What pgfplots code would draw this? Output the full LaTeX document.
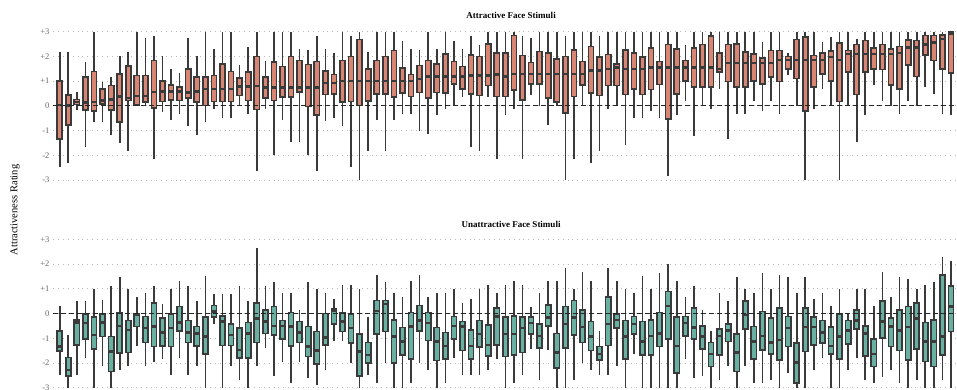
\documentclass[border=0pt]{standalone}
\usepackage{fontspec}
\setmainfont{Liberation Serif}
\usepackage{pgfplots}
\usepackage{pgfplotstable}
\pgfplotsset{compat=1.18}
\usepgfplotslibrary{statistics}
\definecolor{salmon}{RGB}{216,134,115}
\definecolor{tealbox}{RGB}{104,177,162}
\definecolor{edge}{RGB}{58,58,58}

\pgfplotstableread{
lw lq med uq uw
-2.48 -1.33 0.03 1.01 2.17
-2.32 -0.77 0.02 0.43 2.17
-0.16 0.05 0.16 0.26 0.58
-1.67 -0.16 0.13 1.16 1.79
-0.66 -0.22 0.16 1.39 3
-0.66 0.08 0.22 0.69 0.98
-1.16 -0.16 0.26 0.82 1.16
-1.5 -0.66 0.38 1.29 2.0
-1.83 0.22 0.32 1.6 2.17
0 0.03 0.39 1.23 3
0 0.15 0.4 1.23 2.75
-2.14 -0.08 0.57 1.83 2.83
-0.23 0.18 0.58 1.0 2.0
-0.57 0.24 0.58 0.85 1.48
-0.32 0.22 0.58 0.75 1.33
-0.8 0.32 0.55 1.5 2.75
-1.16 0.15 0.59 1.16 2.0
-0.66 0.01 0.69 1.16 3
-0.12 0.18 0.69 1.23 2.3
-0.5 0.18 0.69 1.7 3
-0.5 0.18 0.69 1.39 3
0 0.42 0.78 1.13 1.66
-0.32 0.22 0.78 1.36 2.4
-2.64 -0.15 0.81 2.0 3
-0.12 0.32 0.75 1.16 1.8
-1.98 0.22 0.75 1.77 3
-0.57 0.35 0.75 1.59 3
-1.47 0.35 0.75 2.0 3
-1.47 0.55 0.75 1.83 2.3
-1.98 -0.03 0.75 1.67 2.24
-2.64 -0.36 0.75 1.8 2.82
-0.63 0.46 0.93 1.4 2.3
-0.5 0.49 0.93 1.27 2.14
-0.8 0.16 1.0 1.83 3
-2.48 0.18 1.0 2.0 2.82
-3.0 0.01 1.0 2.68 3
-1.81 0.19 1.0 1.5 2.17
-0.59 0.49 1.0 1.83 3
-1.81 0.49 1.0 2.0 3
-0.57 0.35 1.0 2.24 3
-0.32 0.51 1.0 1.52 2.64
-0.32 0.38 1.0 1.27 2.3
-1.0 0.54 1.09 1.63 2.24
-1.13 0.32 1.19 1.83 3
-0.39 0.54 1.19 1.7 2.3
-0.12 0.51 1.19 2.1 3
0 0.89 1.19 1.8 2.64
0.35 0.69 1.19 1.59 2.3
-1.67 0.49 1.23 2.06 2.82
-1.81 0.42 1.23 2.0 2.48
0.35 0.82 1.23 2.51 3
-2.14 0.38 1.27 2.14 3
-0.39 0.38 1.19 2.14 3
-0.12 0.65 1.29 2.84 3
-2.14 0.24 1.29 2.04 2.82
0.42 0.89 1.29 1.75 2.75
0 0.89 1.29 2.2 3
-0.77 0.32 1.29 2.14 3
0 0.15 1.29 1.9 3
-3.0 -0.3 1.29 2.0 2.84
-2.14 0.38 1.29 2.26 3
0 0.85 1.29 1.8 3
-2.32 0.51 1.43 2.4 3
-1.81 0.42 1.43 1.97 2.82
-0.12 0.82 1.5 2.08 3
0 0.82 1.55 1.7 3
-1.58 0.46 1.5 2.26 3
-0.49 0.69 1.5 2.14 3
-0.49 0.46 1.5 1.97 3
-0.19 0.66 1.56 2.35 3
-0.49 0.86 1.56 1.8 3
-2.82 -0.53 1.56 2.48 3
-0.39 0.49 1.56 2.3 3
0.18 1.0 1.56 1.83 2.48
-1.2 0.75 1.56 2.35 3
0 0.75 1.56 2.48 3
-0.12 0.75 1.56 2.82 3
0.69 1.36 1.5 2.14 3
-1.33 0.98 1.73 2.48 3
-0.32 0.75 1.73 2.51 3
-0.32 0.75 1.73 2.17 3
0.19 1.0 1.73 2.1 3
-0.22 0.89 1.73 1.94 2.57
0.19 1.16 1.73 2.24 3
-0.32 0.98 1.86 2.24 3
1.23 1.5 1.86 2.0 2.14
0 1.1 1.86 2.68 3
-3.0 -0.22 1.86 2.78 3
-0.12 0.75 1.86 2.04 3
0.69 1.29 1.86 2.14 2.57
0 1.0 1.97 2.21 2.78
-3.0 0.18 1.86 2.53 3
0 1.36 2.1 2.24 3
-1.47 0.46 2.1 2.48 2.71
-0.39 1.36 2.1 2.64 3
0.86 1.5 2.1 2.35 3
0.18 1.47 2.1 2.48 3
0 0.85 2.1 2.3 3
-0.32 0.69 2.13 2.4 3
0.18 1.66 2.37 2.67 3
0 1.19 2.37 2.64 3
0.75 2.06 2.48 2.84 3
0.46 1.83 2.57 2.84 3
-0.32 1.5 2.71 2.87 3
-0.39 1.33 2.91 2.98 3
}\topdata

\pgfplotstableread{
lw lq med uq uw
-2.48 -1.51 -1.33 -0.7 0.31
-3.0 -2.52 -2.28 -1.78 -0.86
-2.48 -1.27 -0.36 -0.26 0.49
-1.81 -1.04 -0.39 -0.03 0.49
-3.0 -1.43 -0.86 -0.15 0.98
-2.14 -0.93 -0.36 -0.03 0.55
-3.0 -2.35 -1.54 -0.93 1.12
-2.28 -1.6 -0.5 0.04 1.46
-2.14 -1.58 -0.66 -0.28 0.98
-1.31 -0.53 -0.05 0 0.69
-2.14 -1.17 -0.59 -0.12 0.82
-1.98 -1.33 -0.53 0.44 1.12
-1.85 -1.31 -0.77 -0.19 0.39
-2.48 -1.33 -0.59 -0.03 0.98
-1.81 -0.7 -0.36 0.28 1.32
-2.48 -1.17 -0.77 -0.28 1.12
-2.14 -1.31 -0.8 -0.53 0.49
-3.0 -1.63 -0.93 -0.15 1.52
-0.42 -0.15 0.08 0.32 0.8
-3.0 -1.29 -0.32 -0.09 0.8
-2.14 -1.29 -0.86 -0.43 0.8
-2.68 -1.81 -1.47 -0.59 1.12
-3.0 -1.81 -0.8 -0.36 0.49
-2.14 -1.17 -0.19 0.42 2.64
-1.4 -0.8 -0.32 0.15 1.12
-2.52 -0.86 -0.5 0.28 1.29
-1.98 -1.04 -0.5 -0.28 0.82
-2.82 -1.31 -0.53 0.04 0.82
-1.98 -1.17 -0.77 -0.32 0.15
-2.61 -1.74 -1.33 -0.53 1.29
-2.9 -2.03 -1.5 -0.72 1.0
-2.3 -1.27 -0.96 0 0.85
-1.13 -0.42 0.12 0.18 0.58
-1.13 -0.73 -0.32 0.04 1.16
-2.01 -1.2 -0.59 -0.03 1.16
-3.0 -2.52 -1.54 -0.82 0.98
-2.48 -2.01 -1.67 -1.17 -0.12
-2.82 -0.84 0.11 0.53 1.56
-2.01 -0.73 0.39 0.53 1.29
-3.0 -2.01 -0.93 -0.26 0.85
-3.0 -1.67 -1.13 -0.57 0.66
-2.82 -1.85 -0.53 0.04 1.32
-2.01 -0.7 -0.28 0.32 1.56
-2.3 -1.09 -0.39 0.04 0.66
-3.0 -1.9 -1.13 -0.57 0.85
-2.82 -1.85 -1.31 -0.77 0.85
-1.81 -1.04 -0.5 -0.12 0.98
-2.48 -1.5 -0.53 -0.32 0.42
-2.48 -1.85 -1.31 -0.66 0.58
-2.48 -1.36 -0.82 -0.28 0.98
-2.3 -1.71 -1.27 -0.46 1.16
-1.85 -1.27 -0.12 0.22 0.85
-3.0 -1.74 -0.82 -0.15 1.16
-2.82 -1.67 -0.82 -0.09 1.32
-2.48 -1.58 -0.59 -0.15 1.16
-1.44 -0.82 -0.39 -0.15 0.28
-2.68 -1.4 -0.9 -0.42 0.85
-1.47 -0.5 -0.15 0.35 1.32
-3.0 -2.21 -1.58 -0.8 1.32
-3.0 -1.4 -0.42 0.28 1.83
-2.68 -0.86 -0.15 0.53 0.98
-2.01 -1.17 -0.55 0.15 1.7
-2.3 -1.5 -0.93 -0.32 1.32
-2.48 -1.87 -1.63 -1.33 -0.69
-2.48 -1.29 -0.42 0.66 1.83
-2.14 -0.59 -0.26 -0.01 1.32
-3.0 -1.85 -0.93 -0.28 0.98
-1.63 -0.82 -0.42 -0.12 0.85
-3.0 -1.67 -1.13 -0.32 1.5
-3.0 -1.67 -0.9 -0.26 0.98
-3.0 -1.33 -0.8 0.04 1.66
-3.0 -1.04 0.31 0.89 2.0
-3.0 -2.41 -1.31 -0.15 1.32
-1.85 -0.9 -0.39 -0.12 0.66
-2.61 -1.04 -0.57 0.22 1.12
-2.52 -1.44 -0.93 -0.5 0.15
-3.0 -2.14 -1.63 -1.17 -0.69
-2.68 -1.67 -0.9 -0.63 0.82
-2.14 -1.13 -0.69 -0.42 0.49
-3.0 -2.35 -1.58 -0.82 1.47
-2.12 -0.63 -0.05 0.51 0.98
-2.82 -1.85 -1.13 -0.53 0.85
-2.82 -1.47 -0.9 0.08 1.66
-2.68 -1.63 -1.17 -0.19 0.98
-3.0 -1.87 -1.06 0.22 1.56
-2.39 -1.33 -0.59 -0.12 1.47
-3.0 -2.82 -1.98 -1.2 0.85
-3.0 -1.54 -0.55 0.22 1.47
-2.3 -1.27 -0.55 -0.15 0.58
-1.81 -1.2 -0.77 -0.28 0.82
-3.0 -1.63 -1.31 -0.55 0.31
-3.0 -1.85 -0.93 -0.01 0.98
-2.3 -1.23 -0.69 -0.28 0.01
-1.81 -0.63 -0.28 0.15 0.98
-2.68 -1.71 -0.8 -0.5 0.98
-2.82 -2.14 -1.63 -1.04 0.31
-2.55 -1.0 -0.32 0.51 1.7
-2.3 -1.33 -0.53 -0.19 0.66
-2.82 -1.5 -0.69 0.15 1.47
-3.0 -1.87 -0.55 0.28 1.39
-2.68 -1.44 -0.19 0.44 0.98
-3.0 -1.94 -1.13 -0.36 1.16
-3.0 -2.14 -1.13 -0.26 1.29
-2.68 -1.67 -0.93 1.56 2.28
-3.0 -0.73 0.28 1.12 2.14
}\botdata

\pgfplotsset{
  facepanel/.style={
    scale only axis, width=904pt, height=148.3pt,
    xmin=-0.78, xmax=104.7, ymin=-3, ymax=3,
    clip=false,
    axis line style={draw=none},
    xtick=\empty,
    ytick={-3,-2,-1,0,1,2,3},
    yticklabels={-3,-2,-1,0,+1,+2,+3},
    major tick length=0pt,
    yticklabel style={font=\fontsize{8.5}{10}\selectfont, text=black!60},
    ymajorgrids,
    grid style={black!28, line width=0.9pt, dash pattern=on 0.9pt off 4pt},
    boxplot/draw direction=y,
    boxplot/box extend=0.6,
    boxplot/whisker extend=0,
  },
  boxstyle/.style={draw=edge, line width=1.65pt,
    boxplot/every median/.style={line width=2.5pt}},
}

% draw box #2 of table #1 with fill colour #3
\newcommand\drawbox[3]{%
  \pgfplotstablegetelem{#2}{lw}\of#1\edef\bxlw{\pgfplotsretval}%
  \pgfplotstablegetelem{#2}{lq}\of#1\edef\bxlq{\pgfplotsretval}%
  \pgfplotstablegetelem{#2}{med}\of#1\edef\bxmed{\pgfplotsretval}%
  \pgfplotstablegetelem{#2}{uq}\of#1\edef\bxuq{\pgfplotsretval}%
  \pgfplotstablegetelem{#2}{uw}\of#1\edef\bxuw{\pgfplotsretval}%
  \edef\bxcmd{\noexpand\addplot[boxstyle, fill=#3,
    boxplot prepared={draw position=#2,
      lower whisker=\bxlw, lower quartile=\bxlq, median=\bxmed,
      upper quartile=\bxuq, upper whisker=\bxuw}]
    coordinates {};}%
  \bxcmd
}

\begin{document}
\begin{tikzpicture}
\useasboundingbox (0,0) rectangle (957pt,389pt);

\begin{axis}[facepanel, at={(53pt,209pt)}, anchor=south west]
\pgfplotsinvokeforeach{0,...,104}{\drawbox{\topdata}{#1}{salmon}}
\addplot[black!85, line width=1.2pt, dash pattern=on 5pt off 3pt]
  coordinates {(-0.78,0) (104.7,0)};
\end{axis}

\begin{axis}[facepanel, at={(53pt,1.3pt)}, anchor=south west]
\pgfplotsinvokeforeach{0,...,104}{\drawbox{\botdata}{#1}{tealbox}}
\addplot[black!85, line width=1.2pt, dash pattern=on 5pt off 3pt]
  coordinates {(-0.78,0) (104.7,0)};
\end{axis}

\node[font=\bfseries\fontsize{9}{10}\selectfont] at (511pt,374pt) {Attractive Face Stimuli};
\node[font=\bfseries\fontsize{9}{10}\selectfont] at (511pt,165pt) {Unattractive Face Stimuli};
\node[rotate=90, font=\fontsize{10.5}{12}\selectfont] at (15pt,179pt) {Attractiveness Rating};
\end{tikzpicture}
\end{document}
